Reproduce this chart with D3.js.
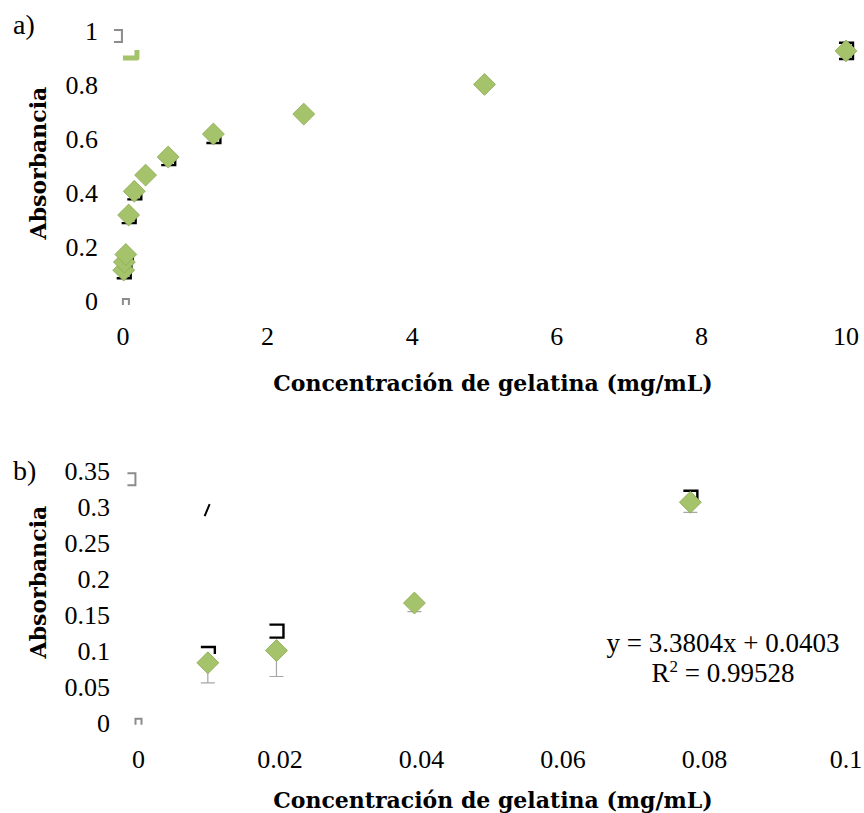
<!DOCTYPE html>
<html>
<head>
<meta charset="utf-8">
<script src="https://cdn.jsdelivr.net/npm/d3@7"></script>
<style>
  body { margin: 0; background: #fff; }
  svg text { font-family: "Liberation Serif", "DejaVu Serif", serif; fill: #000; }
  svg text.title { font-family: "DejaVu Serif", "Liberation Serif", serif; font-weight: bold; }
</style>
</head>
<body>
<div id="vis"></div>
<script>

/* Data */
/* ---- */

// panel a) full range
var concA = [0.0098, 0.0195, 0.039, 0.078, 0.156, 0.3125, 0.625, 1.25, 2.5, 5, 10];
var absA  = [0.118, 0.148, 0.176, 0.322, 0.41, 0.47, 0.537, 0.622, 0.696, 0.806, 0.93];
var errDownA = [0.03, 0.03, 0.03, 0.03, 0.03, 0, 0.03, 0.033, 0, 0, 0.03];
var errUpA   = [0, 0, 0, 0, 0, 0, 0, 0, 0, 0, 0.03];
var closedA  = [0, 0, 0, 0, 0, 0, 0, 0, 0, 0, 0];
var ticksXA = [0, 2, 4, 6, 8, 10];
var ticksYA = [0, 0.2, 0.4, 0.6, 0.8, 1];

// panel b) linear range
var concB = [0.0098, 0.0195, 0.039, 0.078];
var absB  = [0.085, 0.102, 0.168, 0.308];
var errDownB = [0.028, 0.036, 0.012, 0.014];
var errUpB   = [0.022, 0.036, 0, 0.016];
var closedB  = [0, 1, 0, 1];
var ticksXB = [0, 0.02, 0.04, 0.06, 0.08, 0.1];
var ticksYB = [0, 0.05, 0.1, 0.15, 0.2, 0.25, 0.3, 0.35];
var eqLine = 'y = 3.3804x + 0.0403';
var r2Value = '0.99528';

// stray marks left over in the original (data units)
var strayA = [{ kind: 'grayBracket', x: -0.07, y: 0.985 }, { kind: 'greenL', x: 0.11, y: 0.915 }, { kind: 'grayCap', x: 0.04, y: 0.0 }];
var strayB = [{ kind: 'grayBracket', x: -0.001, y: 0.34 }, { kind: 'slash', x: 0.0097, y: 0.297 }, { kind: 'grayCap', x: 0.0, y: 0.003 }];

var xTitle = 'Concentración de gelatina (mg/mL)';
var yTitle = 'Absorbancia';


/* Setup */
/* ----- */

var W = 864, H = 813;
var svg = d3.select('#vis').append('svg').attr('width', W).attr('height', H);

var fill = '#a5c36b', edge = '#8eab56';
var diamond = d3.symbol().type(d3.symbolSquare).size(240);

function panel(cfg) {

  var x = d3.scaleLinear().domain(cfg.xDom).range(cfg.xRange);
  var y = d3.scaleLinear().domain(cfg.yDom).range(cfg.yRange);
  var g = svg.append('g');

  // tick labels (no axis lines in the original)
  g.selectAll('.xl').data(cfg.ticksX).enter().append('text')
    .attr('x', function(d) { return x(d); })
    .attr('y', cfg.xLabelY)
    .attr('text-anchor', 'middle')
    .style('font-size', '26px')
    .text(function(d) { return d3.format('~g')(d); });

  g.selectAll('.yl').data(cfg.ticksY).enter().append('text')
    .attr('x', cfg.yLabelX)
    .attr('y', function(d) { return y(d) + 8; })
    .attr('text-anchor', 'end')
    .style('font-size', '26px')
    .text(function(d) { return d3.format('~g')(d); });

  // titles
  g.append('text').attr('class', 'title')
    .attr('x', cfg.xTitleX).attr('y', cfg.xTitleY)
    .attr('text-anchor', 'middle')
    .style('font-size', '22px')
    .text(xTitle);

  g.append('text').attr('class', 'title')
    .attr('transform', 'translate(' + 46 + ',' + cfg.yTitleY + ') rotate(-90)')
    .attr('text-anchor', 'middle')
    .style('font-size', '22px')
    .text(yTitle);

  g.append('text')
    .attr('x', 13).attr('y', cfg.tagY)
    .style('font-size', '28px')
    .text(cfg.tag);

  // stray marks
  cfg.stray.forEach(function(s) {
    var px = x(s.x), py = y(s.y);
    if (s.kind === 'grayBracket') {
      g.append('path').attr('d', 'M' + (px - 4) + ',' + (py - 6) + 'H' + (px + 4) + 'V' + (py + 6) + 'H' + (px - 4))
        .attr('fill', 'none').attr('stroke', '#8c8c8c').attr('stroke-width', 2);
    } else if (s.kind === 'greenL') {
      g.append('path').attr('d', 'M' + (px - 8) + ',' + (py + 3) + 'H' + (px + 6) + 'V' + (py - 5))
        .attr('fill', 'none').attr('stroke', fill).attr('stroke-width', 5).attr('stroke-linejoin', 'round');
    } else if (s.kind === 'grayCap') {
      g.append('path').attr('d', 'M' + (px - 3) + ',' + (py + 3) + 'V' + (py - 3) + 'H' + (px + 3) + 'V' + (py + 3))
        .attr('fill', 'none').attr('stroke', '#8c8c8c').attr('stroke-width', 2);
    } else {
      g.append('path').attr('d', 'M' + (px - 2.5) + ',' + (py + 6) + 'L' + (px + 2.5) + ',' + (py - 6))
        .attr('fill', 'none').attr('stroke', '#000').attr('stroke-width', 2);
    }
  });

  var pts = cfg.xs.map(function(d, i) {
    return { x: d, y: cfg.ys[i], dn: cfg.errDown[i], up: cfg.errUp[i], closed: cfg.closed[i] };
  });

  // gray lower error bars (panel b)
  if (cfg.grayBars) {
    pts.forEach(function(d) {
      var px = x(d.x), py = y(d.y - d.dn);
      g.append('path').attr('d', 'M' + px + ',' + y(d.y) + 'V' + py + 'M' + (px - 7) + ',' + py + 'H' + (px + 7))
        .attr('stroke', '#a6a6a6').attr('stroke-width', 1.2).attr('fill', 'none');
    });
  }

  // black half-drawn caps
  pts.forEach(function(d) {
    var px = x(d.x);
    if (cfg.blackDown && d.dn) {
      var py = y(d.y - d.dn);
      g.append('path').attr('d', 'M' + (px - 7) + ',' + py + 'H' + (px + 7) + 'V' + (py - 6))
        .attr('stroke', '#000').attr('stroke-width', 2.4).attr('fill', 'none');
    }
    if (d.up) {
      var pu = y(d.y + d.up);
      var path = 'M' + (px - 7) + ',' + pu + 'H' + (px + 7) + 'V' + (pu + (d.closed ? 13 : 7));
      if (d.closed) path += 'H' + (px - 7);
      g.append('path').attr('d', path)
        .attr('stroke', '#000').attr('stroke-width', 2.4).attr('fill', 'none');
    }
  });

  // diamonds
  g.selectAll('.pt').data(pts).enter().append('path')
    .attr('d', diamond)
    .attr('transform', function(d) { return 'translate(' + x(d.x) + ',' + y(d.y) + ') rotate(45)'; })
    .attr('fill', fill).attr('stroke', edge).attr('stroke-width', 0.8);

  return g;

} // panel()


/* Panels */
/* ------ */

panel({
  xDom: [0, 10], xRange: [123, 846], yDom: [0, 1], yRange: [302, 32],
  ticksX: ticksXA, ticksY: ticksYA, xLabelY: 345, yLabelX: 98,
  xTitleX: 493, xTitleY: 391, yTitleY: 163, tag: 'a)', tagY: 34,
  xs: concA, ys: absA, errDown: errDownA, errUp: errUpA, closed: closedA,
  stray: strayA, grayBars: false, blackDown: true
});

panel({
  xDom: [0, 0.1], xRange: [138.5, 846], yDom: [0, 0.35], yRange: [724, 472],
  ticksX: ticksXB, ticksY: ticksYB, xLabelY: 768, yLabelX: 110,
  xTitleX: 493, xTitleY: 808, yTitleY: 582, tag: 'b)', tagY: 480,
  xs: concB, ys: absB, errDown: errDownB, errUp: errUpB, closed: closedB,
  stray: strayB, grayBars: true, blackDown: false
});

// trendline equation
var eq = svg.append('g').attr('text-anchor', 'middle').style('font-size', '27px');
eq.append('text').attr('x', 723).attr('y', 652).text(eqLine);
var r2 = eq.append('text').attr('x', 723).attr('y', 682);
r2.append('tspan').text('R');
r2.append('tspan').attr('dy', -10).style('font-size', '17px').text('2');
r2.append('tspan').attr('dy', 10).text(' = ' + r2Value);

</script>
</body>
</html>
